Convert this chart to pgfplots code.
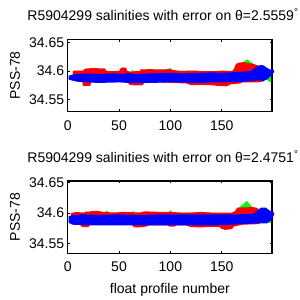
\documentclass[border=0pt]{standalone}
\usepackage{pgfplots}
\pgfplotsset{compat=1.18}
\usepackage{fontspec}
\setmainfont{Liberation Sans}
\definecolor{mred}{RGB}{255,0,0}
\definecolor{mgreen}{RGB}{0,255,0}
\definecolor{mblue}{RGB}{0,0,255}
\newcommand{\fs}{\fontsize{14bp}{16bp}\selectfont}
\pgfplotsset{
  panel/.style={
    scale only axis, width=204.3bp, height=72.4bp,
    xmin=0, xmax=199, xtick={0,50,100,150},
    ytick={34.55,34.6,34.65}, yticklabels={34.55,34.6,34.65},
    tick align=inside, tick pos=both,
    major tick length=2.5bp,
    axis line style={line width=1.5bp},
    every tick/.style={black, line width=1bp},
    tick label style={font=\fs},
    xticklabel style={yshift=-5.3bp},
    /pgf/number format/assume math mode=true,
    clip=false,
    title style={font=\fs, anchor=base west, at={(-0.198,1)}, yshift=12.5bp, inner sep=0pt},
    ylabel style={font=\fs, at={(-0.2335,0.5)}, anchor=base, inner sep=0pt},
    xlabel style={font=\fs, at={(0.5,0)}, anchor=base, yshift=-40.7bp, inner sep=0pt},
    ylabel={PSS-78},
  },
  gband/.style={fill=mgreen, draw=none},
  rband/.style={fill=mred, draw=none},
  bband/.style={fill=mblue, draw=none},
}
\begin{document}
\begin{tikzpicture}[x=1bp,y=1bp]
\useasboundingbox (0,0) rectangle (300,300);
% ---------- top panel ----------
\begin{axis}[panel, at={(67.7bp,188.3bp)}, anchor=south west,
  ymin=34.528, ymax=34.6565,
  title={R5904299 salinities with error on θ=2.5559\textsuperscript{°}}]
\addplot[gband] coordinates {
 (5,34.599) (17,34.599) (18,34.6025) (20,34.599) (36,34.603) (38,34.599) (62,34.599) (63,34.6025) (65,34.599)
 (70,34.599) (96,34.602) (100,34.6055) (103,34.601) (160,34.599) (164,34.612) (170,34.615) (175,34.621) (179,34.615) (184,34.610) (191,34.604) (198,34.600)
 (198,34.581) (196,34.581) (194,34.586) (160,34.586) (158,34.5725) (156,34.586) (5,34.586)
} -- cycle;
\addplot[rband] coordinates {
 (5,34.6005) (8,34.601) (15,34.601) (17,34.6045) (25,34.6055) (30,34.605) (36,34.605) (38,34.600) (50,34.600) (52,34.606) (55,34.6065) (57,34.606)
 (58,34.600) (62,34.599) (66,34.600) (70,34.600) (71,34.603) (80,34.6035) (90,34.603) (96,34.603) (98,34.604) (103,34.602) (110,34.600) (118,34.601)
 (125,34.601) (130,34.600) (145,34.600) (150,34.601) (160,34.600) (162,34.603) (164,34.613) (168,34.6155) (172,34.616) (175,34.6145) (179,34.6135)
 (184,34.611) (188,34.608) (191,34.605)
 (191,34.582) (185,34.580) (170,34.580) (168,34.578) (158,34.5765) (155,34.573) (150,34.5735) (145,34.574) (140,34.575) (130,34.5755) (120,34.575)
 (116,34.578) (110,34.5785) (103,34.579) (90,34.580) (75,34.580) (73,34.575) (66,34.5745) (60,34.576) (58,34.581) (40,34.581) (23,34.581) (22,34.574)
 (15,34.574) (14,34.582) (5,34.583)
} -- cycle;
\addplot[bband] coordinates {
 (1,34.592) (5,34.594) (10,34.595) (20,34.596) (30,34.595) (45,34.596) (55,34.595) (60,34.597) (65,34.595) (80,34.596) (100,34.597) (110,34.596)
 (120,34.5965) (130,34.597) (140,34.598) (150,34.597) (160,34.598) (170,34.599) (178,34.600) (182,34.605) (185,34.609) (188,34.611) (191,34.610)
 (194,34.606) (197,34.603) (201,34.602)
 (201,34.598) (197,34.590) (194,34.585) (190,34.582) (185,34.584) (180,34.582) (170,34.581) (160,34.5805) (150,34.580) (140,34.580) (130,34.579)
 (115,34.5795) (100,34.580) (80,34.579) (60,34.579) (50,34.580) (30,34.579) (20,34.580) (10,34.581) (5,34.583) (1,34.585)
} -- cycle;
\end{axis}
% ---------- bottom panel ----------
\begin{axis}[panel, at={(67.7bp,46.7bp)}, anchor=south west,
  ymin=34.534, ymax=34.653,
  xlabel={float profile number},
  title={R5904299 salinities with error on θ=2.4751\textsuperscript{°}}]
\addplot[gband] coordinates {
 (3,34.599) (17,34.600) (18,34.604) (20,34.601) (36,34.601) (38,34.6045) (40,34.601) (62,34.600) (64,34.6035) (66,34.600)
 (98,34.601) (100,34.605) (102,34.601) (160,34.600) (166,34.608) (174.5,34.620) (181,34.608) (187,34.604) (198,34.600)
 (198,34.584) (196,34.584) (194,34.588) (5,34.588)
} -- cycle;
\addplot[rband] coordinates {
 (3,34.600) (8,34.602) (15,34.601) (22,34.603) (28,34.604) (35,34.602) (45,34.601) (55,34.602) (70,34.601) (75,34.603) (90,34.602)
 (100,34.602) (110,34.601) (120,34.601) (130,34.602) (140,34.601) (150,34.601) (160,34.601) (163,34.603) (165,34.609) (172,34.6095)
 (180,34.610) (184,34.609) (187,34.605)
 (187,34.582) (170,34.581) (162,34.578) (160,34.574) (154,34.5725) (150,34.574) (148,34.577) (140,34.5775) (130,34.5765) (120,34.577)
 (115,34.580) (106,34.580) (104,34.578) (99,34.578) (97,34.580) (80,34.580) (74,34.577) (65,34.5765) (62,34.581) (22,34.581) (20,34.577)
 (14,34.577) (12,34.581) (3,34.582)
} -- cycle;
\addplot[bband] coordinates {
 (1,34.595) (5,34.597) (15,34.598) (30,34.597) (50,34.598) (70,34.597) (90,34.598) (110,34.598) (130,34.598) (150,34.598) (165,34.598)
 (180,34.599) (184,34.603) (188,34.609) (193,34.609) (197,34.604) (201,34.601)
 (201,34.597) (198,34.588) (194,34.583) (185,34.583) (170,34.582) (150,34.580) (120,34.580) (100,34.580) (70,34.580) (40,34.580)
 (20,34.580) (5,34.581) (1,34.584)
} -- cycle;
\end{axis}
\end{tikzpicture}
\end{document}
